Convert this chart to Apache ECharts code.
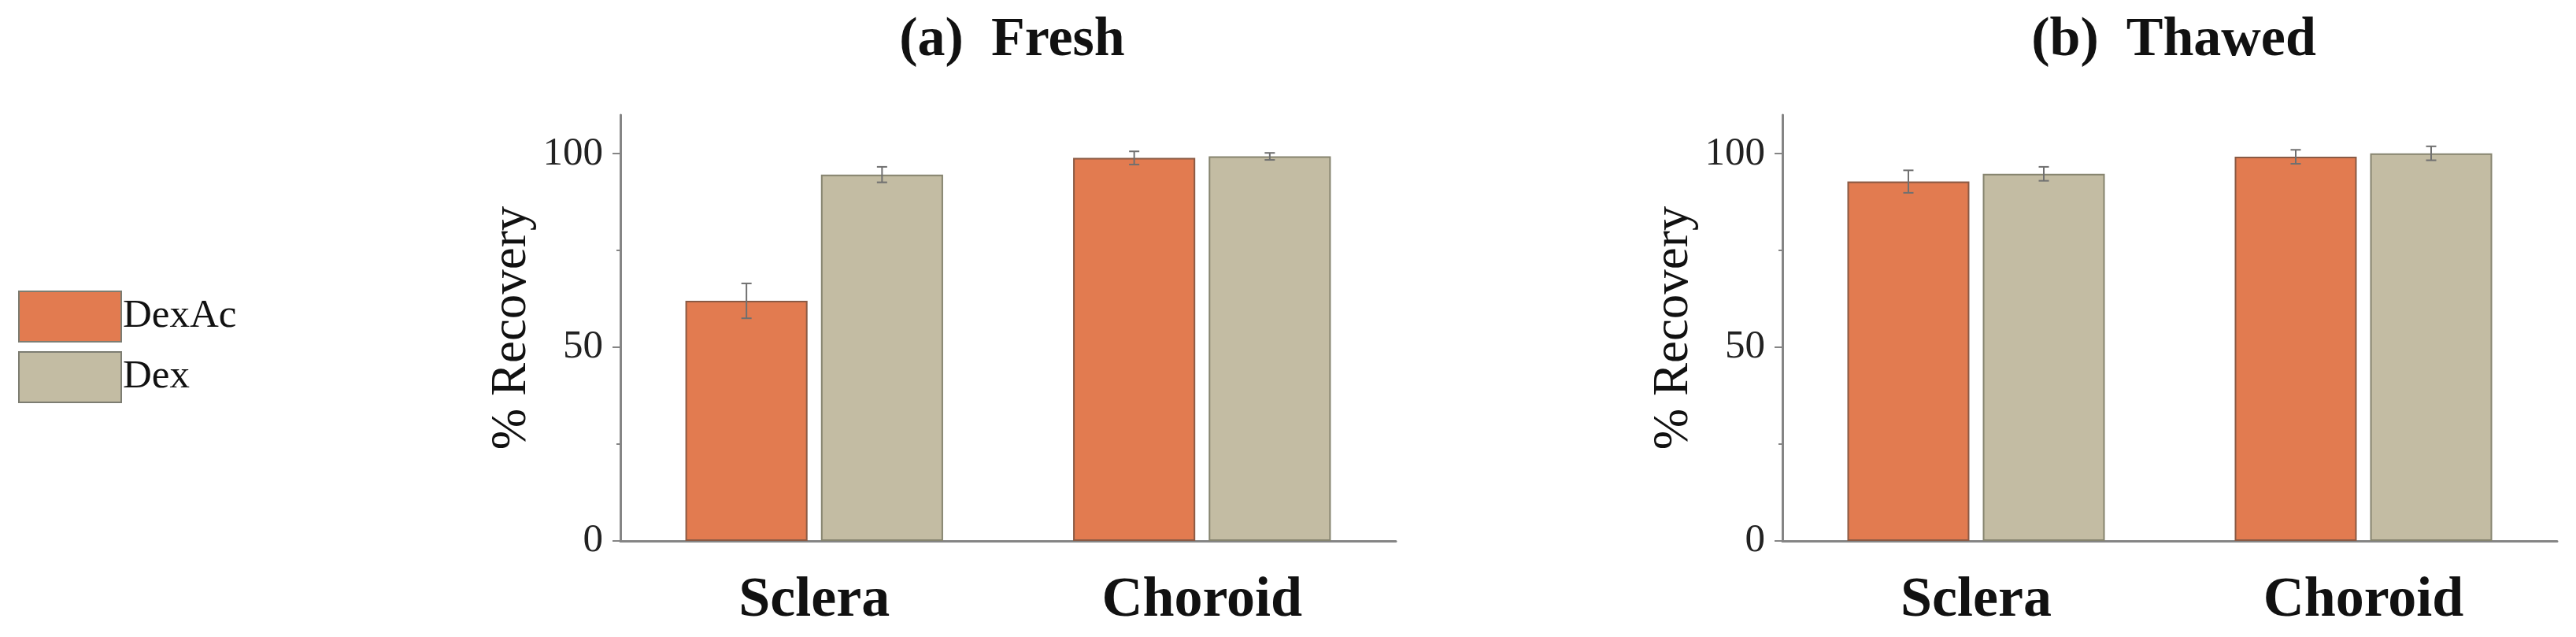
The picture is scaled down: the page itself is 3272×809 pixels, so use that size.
<!DOCTYPE html>
<html>
<head>
<meta charset="utf-8">
<script src="https://cdn.jsdelivr.net/npm/echarts@6/dist/echarts.min.js"></script>
<style>
html,body{margin:0;padding:0;background:#fff;}
#chart{width:3272px;height:809px;}
</style>
</head>
<body>
<div id="chart"></div>
<script>
// ---- data ----
const categories = ['Sclera', 'Choroid'];
const seriesNames = ['DexAc', 'Dex'];
const panelTitles = ['(a)  Fresh', '(b)  Thawed'];
const yTickValues = [0, 50, 100];
const yMinorTickValues = [25, 75];

const freshDexAc = [62.0, 98.9];
const freshDexAcErr = [4.5, 1.7];
const freshDex = [94.6, 99.3];
const freshDexErr = [2.0, 0.9];

const thawedDexAc = [92.8, 99.2];
const thawedDexAcErr = [2.9, 1.8];
const thawedDex = [94.8, 100.1];
const thawedDexErr = [1.8, 1.8];

// ---- styling ----
const FONT = "'Liberation Serif', 'Times New Roman', serif";
const COL_A = '#E27B50';
const COL_B = '#C3BCA3';
const BORDER_A = '#8a5a44';
const BORDER_B = '#86846f';
const AXIS_COL = '#858585';
const BAR_W_FRAC = 0.315;
const BAR_GAP_FRAC = 0.11;

const chart = echarts.init(document.getElementById('chart'), null, {renderer: 'canvas'});

const grids = [
  {left: 788, width: 985, top: 146, height: 541},
  {left: 2264, width: 984, top: 146, height: 541}
];

function makeErr(values, errs, side, gi) {
  return {
    type: 'custom',
    name: 'err' + side + gi,
    xAxisIndex: gi,
    yAxisIndex: gi,
    z: 5,
    silent: true,
    data: values.map((v, i) => [i, v, errs[i]]),
    renderItem: function (params, api) {
      const cat = api.value(0), mean = api.value(1), err = api.value(2);
      const band = api.size([1, 0])[0];
      const bw = band * BAR_W_FRAC;
      const gap = bw * BAR_GAP_FRAC;
      const off = (side === 0 ? -1 : 1) * (bw + gap) / 2;
      const top = api.coord([cat, mean + err]);
      const bot = api.coord([cat, mean - err]);
      const x = top[0] + off;
      const cap = 6.5;
      const st = {stroke: '#707070', lineWidth: 2};
      return {
        type: 'group',
        children: [
          {type: 'line', shape: {x1: x, y1: top[1], x2: x, y2: bot[1]}, style: st},
          {type: 'line', shape: {x1: x - cap, y1: top[1], x2: x + cap, y2: top[1]}, style: st},
          {type: 'line', shape: {x1: x - cap, y1: bot[1], x2: x + cap, y2: bot[1]}, style: st}
        ]
      };
    }
  };
}

function barSeries(name, values, gi, color, border) {
  return {
    type: 'bar',
    name: name,
    xAxisIndex: gi,
    yAxisIndex: gi,
    data: values,
    barWidth: (BAR_W_FRAC * 100) + '%',
    barGap: (BAR_GAP_FRAC * 100) + '%',
    itemStyle: {color: color, borderColor: border, borderWidth: 2},
    z: 3
  };
}

const xAxes = grids.map((g, gi) => ({
  type: 'category',
  gridIndex: gi,
  data: categories,
  axisLine: {lineStyle: {color: AXIS_COL, width: 3}},
  axisTick: {show: false},
  axisLabel: {
    fontFamily: FONT, fontSize: 72, fontWeight: 'bold', color: '#111',
    margin: 40, lineHeight: 72
  }
}));

const yAxes = [];
grids.forEach((g, gi) => {
  yAxes.push({
    type: 'value',
    gridIndex: gi,
    min: 0, max: 110, interval: 50,
    splitLine: {show: false},
    axisLine: {show: true, lineStyle: {color: AXIS_COL, width: 3}},
    axisTick: {show: true, customValues: yTickValues, length: 10, lineStyle: {color: AXIS_COL, width: 2}},
    axisLabel: {customValues: yTickValues, fontFamily: FONT, fontSize: 51, color: '#222', margin: 22},
    name: '% Recovery',
    nameLocation: 'middle',
    nameGap: 106,
    nameTextStyle: {fontFamily: FONT, fontSize: 63, color: '#111'}
  });
});
grids.forEach((g, gi) => {
  yAxes.push({
    type: 'value',
    gridIndex: gi,
    position: 'left',
    min: 0, max: 110, interval: 50,
    splitLine: {show: false},
    axisLine: {show: false},
    axisTick: {show: true, customValues: yMinorTickValues, length: 5, lineStyle: {color: AXIS_COL, width: 2}},
    axisLabel: {show: false}
  });
});

const series = [
  barSeries(seriesNames[0], freshDexAc, 0, COL_A, BORDER_A),
  barSeries(seriesNames[1], freshDex, 0, COL_B, BORDER_B),
  barSeries(seriesNames[0], thawedDexAc, 1, COL_A, BORDER_A),
  barSeries(seriesNames[1], thawedDex, 1, COL_B, BORDER_B),
  makeErr(freshDexAc, freshDexAcErr, 0, 0),
  makeErr(freshDex, freshDexErr, 1, 0),
  makeErr(thawedDexAc, thawedDexAcErr, 0, 1),
  makeErr(thawedDex, thawedDexErr, 1, 1)
];

chart.setOption({
  animation: false,
  backgroundColor: '#fff',
  title: grids.map((g, gi) => ({
    text: panelTitles[gi],
    left: g.left + g.width / 2,
    textAlign: 'center',
    top: 12,
    textStyle: {fontFamily: FONT, fontSize: 70, fontWeight: 'bold', color: '#111'}
  })),
  legend: {
    data: seriesNames,
    orient: 'vertical',
    left: 23,
    top: 369,
    padding: 0,
    itemWidth: 130,
    itemHeight: 64,
    itemGap: 11,
    icon: 'rect',
    itemStyle: {borderColor: '#7d7d72', borderWidth: 2},
    textStyle: {fontFamily: FONT, fontSize: 51, color: '#111', padding: [0, 0, 0, -3]}
  },
  grid: grids,
  xAxis: xAxes,
  yAxis: yAxes,
  series: series
});
</script>
</body>
</html>
